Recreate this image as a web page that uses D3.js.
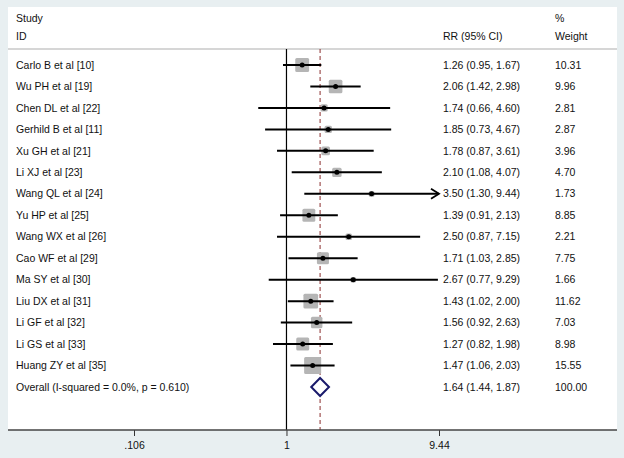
<!DOCTYPE html>
<html><head><meta charset="utf-8">
<script src="https://cdn.jsdelivr.net/npm/d3@7"></script>
<style>body{margin:0;background:#e8eff1;}svg{display:block;}</style>
</head><body>
<script>
const studies = ["Carlo B et al [10]","Wu PH et al [19]","Chen DL et al [22]","Gerhild B et al [11]","Xu GH et al [21]","Li XJ et al [23]","Wang QL et al [24]","Yu HP et al [25]","Wang WX et al [26]","Cao WF et al [29]","Ma SY et al [30]","Liu DX et al [31]","Li GF et al [32]","Li GS et al [33]","Huang ZY et al [35]"];
const rr     = [1.26,2.06,1.74,1.85,1.78,2.10,3.50,1.39,2.50,1.71,2.67,1.43,1.56,1.27,1.47];
const lo     = [0.95,1.42,0.66,0.73,0.87,1.08,1.30,0.91,0.87,1.03,0.77,1.02,0.92,0.82,1.06];
const hi     = [1.67,2.98,4.60,4.67,3.61,4.07,9.44,2.13,7.15,2.85,9.29,2.00,2.63,1.98,2.03];
const weight = [10.31,9.96,2.81,2.87,3.96,4.70,1.73,8.85,2.21,7.75,1.66,11.62,7.03,8.98,15.55];
const overallLabel = "Overall  (I-squared = 0.0%, p = 0.610)";
const overall = {rr:1.64, lo:1.44, hi:1.87, weight:100.00};
const tickValues = [0.106, 1, 9.44];
const tickLabels = [".106", "1", "9.44"];

const W = 624, H = 458;
const svg = d3.select("body").append("svg").attr("width", W).attr("height", H);
const font = "'Liberation Sans', Arial, sans-serif";
const fs = 10.5;
const txt = "#111";

const panel = {x0: 8, y0: 7, x1: 617, y1: 430};
svg.append("rect").attr("x", panel.x0).attr("y", panel.y0)
  .attr("width", panel.x1 - panel.x0).attr("height", panel.y1 - panel.y0).attr("fill", "#fff");

const x = d3.scaleLog().domain([0.106, 9.44]).range([134, 439]);
const rows = studies.concat([overallLabel]);
const y = d3.scalePoint().domain(rows).range([65, 387]);
const fmt = d3.format(".2f");

// header
const g = svg.append("g").attr("font-family", font).attr("font-size", fs).attr("fill", txt);
g.append("text").attr("x", 16).attr("y", 18).attr("dy", "0.35em").text("Study");
g.append("text").attr("x", 16).attr("y", 36).attr("dy", "0.35em").text("ID");
g.append("text").attr("x", 443).attr("y", 36).attr("dy", "0.35em").text("RR (95% CI)");
g.append("text").attr("x", 555).attr("y", 18).attr("dy", "0.35em").text("%");
g.append("text").attr("x", 555).attr("y", 36).attr("dy", "0.35em").text("Weight");
svg.append("line").attr("x1", panel.x0).attr("x2", panel.x1).attr("y1", 49).attr("y2", 49)
  .attr("stroke", "#c8c8c8").attr("stroke-width", 1.5);

// null line
svg.append("line").attr("x1", x(1)).attr("x2", x(1)).attr("y1", 49).attr("y2", panel.y1)
  .attr("stroke", "#000").attr("stroke-width", 1.2);
// overall dashed line
svg.append("line").attr("x1", x(overall.rr)).attr("x2", x(overall.rr)).attr("y1", 49).attr("y2", panel.y1)
  .attr("stroke", "#8b2e2e").attr("stroke-width", 1).attr("stroke-dasharray", "4,3");

const data = studies.map((s, i) => ({s, rr: rr[i], lo: lo[i], hi: hi[i], w: weight[i]}));
const xmax = x.domain()[1];
// boxes
svg.append("g").selectAll("rect").data(data).join("rect")
  .attr("x", d => x(d.rr) - 2.16 * Math.sqrt(d.w))
  .attr("y", d => y(d.s) - 2.16 * Math.sqrt(d.w))
  .attr("width", d => 4.32 * Math.sqrt(d.w))
  .attr("height", d => 4.32 * Math.sqrt(d.w))
  .attr("rx", 1.5)
  .attr("fill", "#b5b5b5");
// CI lines
svg.append("g").selectAll("line").data(data).join("line")
  .attr("x1", d => x(d.lo)).attr("x2", d => x(Math.min(d.hi, xmax)))
  .attr("y1", d => y(d.s)).attr("y2", d => y(d.s))
  .attr("stroke", "#000").attr("stroke-width", 2);
// arrows
svg.append("g").selectAll("path").data(data.filter(d => d.s === "Wang QL et al [24]")).join("path")
  .attr("d", d => { const ax = x(xmax), ay = y(d.s); return `M${ax-8},${ay-5}L${ax},${ay}L${ax-8},${ay+5}`; })
  .attr("fill", "none").attr("stroke", "#000").attr("stroke-width", 1.8);
// points
svg.append("g").selectAll("circle").data(data).join("circle")
  .attr("cx", d => x(d.rr)).attr("cy", d => y(d.s)).attr("r", 2.5).attr("fill", "#000");

// overall diamond
const oy = y(overallLabel);
svg.append("path")
  .attr("d", `M${x(overall.lo)},${oy}L${x(overall.rr)},${oy-9}L${x(overall.hi)},${oy}L${x(overall.rr)},${oy+9}Z`)
  .attr("fill", "#fff").attr("stroke", "#1a1a6b").attr("stroke-width", 2);

// labels
g.append("g").selectAll("text").data(rows).join("text")
  .attr("x", 16).attr("y", d => y(d)).attr("dy", "0.35em").text(d => d);
const allRows = data.concat([{s: overallLabel, rr: overall.rr, lo: overall.lo, hi: overall.hi, w: overall.weight}]);
g.append("g").selectAll("text").data(allRows).join("text")
  .attr("x", 443).attr("y", d => y(d.s)).attr("dy", "0.35em")
  .text(d => `${fmt(d.rr)} (${fmt(d.lo)}, ${fmt(d.hi)})`);
g.append("g").selectAll("text").data(allRows).join("text")
  .attr("x", 555).attr("y", d => y(d.s)).attr("dy", "0.35em")
  .text(d => fmt(d.w));

// axis
const axis = d3.axisBottom(x).tickValues(tickValues)
  .tickFormat((d, i) => tickLabels[i]).tickSize(6).tickPadding(6);
const ag = svg.append("g").attr("transform", `translate(0,${panel.y1})`).call(axis);
ag.select(".domain").remove();
ag.selectAll(".tick line").attr("stroke", "#333");
ag.selectAll("text").attr("font-family", font).attr("font-size", fs).attr("fill", txt);
svg.append("line").attr("x1", panel.x0).attr("x2", panel.x1).attr("y1", panel.y1).attr("y2", panel.y1)
  .attr("stroke", "#444").attr("stroke-width", 1.5);
</script>
</body></html>
